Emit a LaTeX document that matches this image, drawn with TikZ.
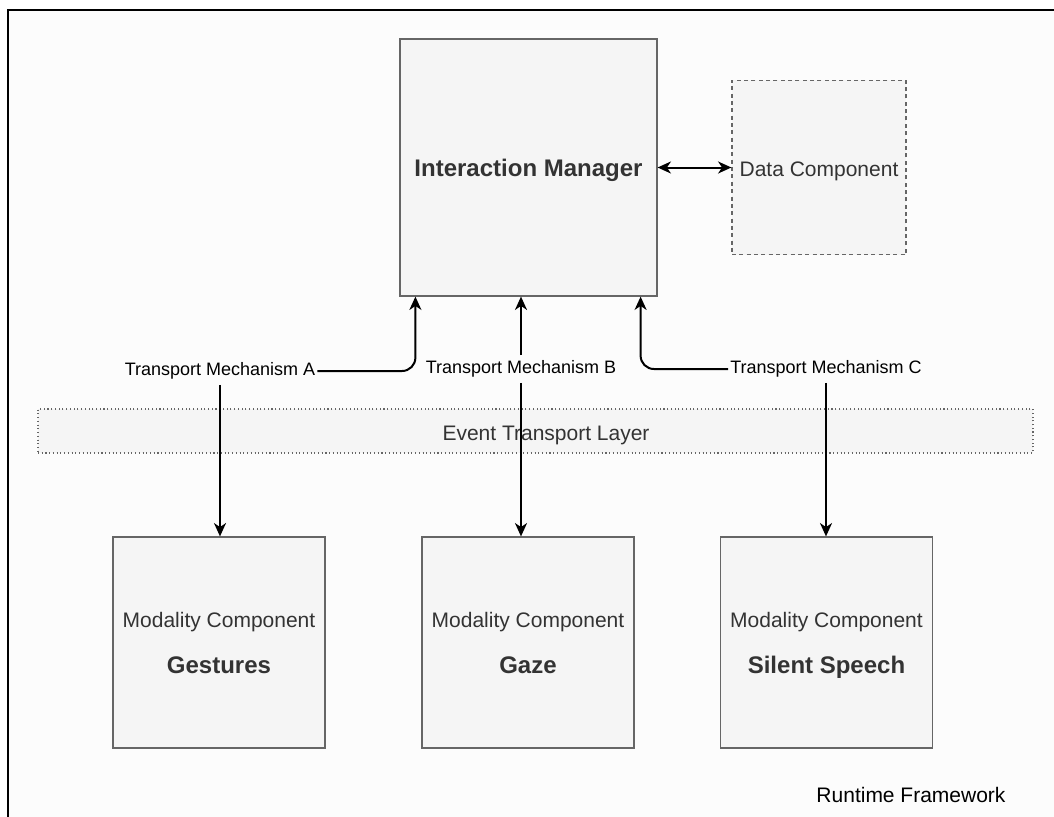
\documentclass[tikz,border=0pt]{standalone}
\usepackage{fontspec}
\setmainfont{Liberation Sans}
\usetikzlibrary{arrows.meta,calc}
\definecolor{boxfill}{HTML}{F5F5F5}
\definecolor{boxline}{HTML}{666666}
\definecolor{boxtext}{HTML}{333333}
\definecolor{canvas}{HTML}{FCFCFC}

\begin{document}
\begin{tikzpicture}[x=0.75pt,y=-0.75pt,
  comp/.style={draw=boxline,fill=boxfill,line width=0.9pt,inner sep=0pt,text=boxtext},
  bigtitle/.style={font=\fontsize{18pt}{21pt}\selectfont\bfseries,text=boxtext,inner sep=0pt,anchor=base},
  plain/.style={font=\fontsize{15.75pt}{19pt}\selectfont,text=boxtext,inner sep=0pt,anchor=base},
  tlabel/.style={font=\fontsize{13.5pt}{16pt}\selectfont,text=black,inner xsep=1.5pt,inner ysep=4pt,fill=canvas},
  conn/.style={line width=1.5pt,draw=black},
  tip/.style={},
  arr/.style={conn,-{Stealth[length=10pt,width=9pt,inset=3pt]}},
  darr/.style={conn,{Stealth[length=10pt,width=9pt,inset=3pt]}-{Stealth[length=10pt,width=9pt,inset=3pt]}}]

\useasboundingbox (0,0) rectangle (1054,817);
\fill[white] (0,0) rectangle (1054,817);

% outer frame of the runtime framework, running past the right and bottom edges
\begin{scope}
  \clip (0,0) rectangle (1054,817);
  \draw[line width=1.6pt,fill=canvas] (8,10) rectangle (1080,840);
\end{scope}

% interaction manager and data component
\node[comp,minimum width=192.75pt,minimum height=192.75pt] (im) at (528.5,167.5) {};
\node[bigtitle] (imtext) at (528.5,176) {Interaction Manager};
\node[comp,dash pattern=on 3pt off 2.5pt,minimum width=130.5pt,minimum height=130.5pt] (dc) at (819,167.5) {};
\node[plain] (dctext) at (819,176) {Data Component};
\draw[darr] (im.east) -- (dc.west);

% event transport layer
\node[comp,dash pattern=on 0.8pt off 2pt,line width=1pt,minimum width=746.25pt,minimum height=33pt] (etl) at (535.5,431) {};
\node[plain] (etltext) at (546,440) {Event Transport Layer};

% modality components
\node[comp,minimum width=159pt,minimum height=158.25pt] (gest) at (219,642.5) {};
\node[comp,minimum width=159pt,minimum height=158.25pt] (gaze) at (528,642.5) {};
\node[comp,minimum width=159pt,minimum height=158.25pt] (sil) at (826.5,642.5) {};
\foreach \b/\name in {gest/Gestures,gaze/Gaze,sil/Silent Speech}{
  \node[plain] (\b-kind) at ($(\b.center)+(0,-15.5)$) {Modality Component};
  \node[bigtitle] (\b-name) at ($(\b.center)+(0,30.5)$) {\name};
}

% transport mechanisms
\node[tlabel] (ta) at (220,371) {Transport Mechanism A};
\node[tlabel] (tb) at (521,369) {Transport Mechanism B};
\node[tlabel] (tc) at (826,369) {Transport Mechanism C};

\draw[arr,rounded corners=10pt] (ta.east) -| ($(im.south west)+(16,0)$);
\draw[arr,rounded corners=10pt] (tc.west) -| ($(im.south east)+(-17,0)$);
\draw[arr] (tb.north) -- (tb.north |- im.south);

\draw[arr] (ta.south) -- (ta.south |- gest.north);
\draw[arr] (tb.south) -- (tb.south |- gaze.north);
\draw[arr] (tc.south) -- (tc.south |- sil.north);

\node[font=\fontsize{15.75pt}{19pt}\selectfont,inner sep=0pt,anchor=base] (rt) at (911,802) {Runtime Framework};
\end{tikzpicture}
\end{document}
